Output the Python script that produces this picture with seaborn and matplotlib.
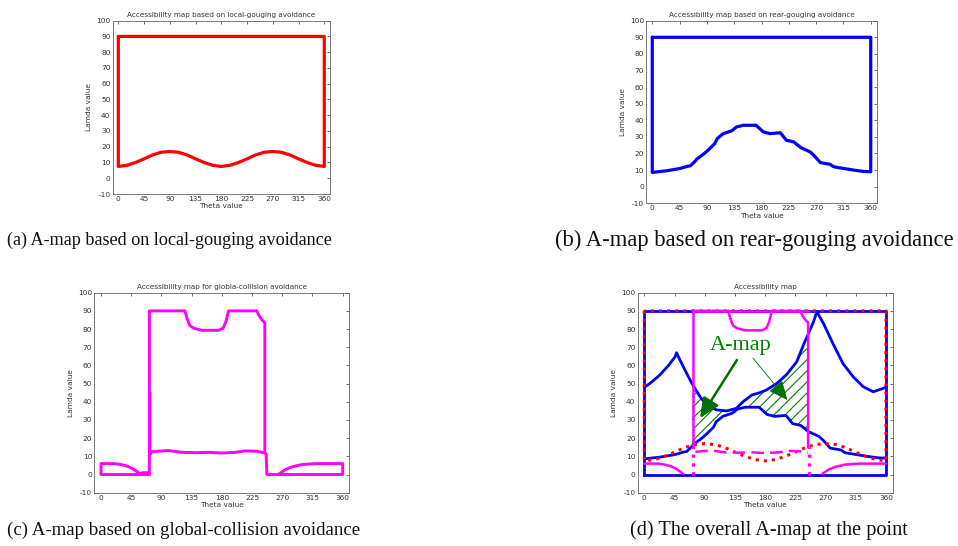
import numpy as np
import pandas as pd
import matplotlib
matplotlib.use('Agg')
import matplotlib.pyplot as plt
import seaborn as sns

# ---- data (theta in deg, lambda in deg) ----
theta_ticks = [0, 45, 90, 135, 180, 225, 270, 315, 360]
lam_ticks = [-10, 0, 10, 20, 30, 40, 50, 60, 70, 80, 90, 100]

# (a) local-gouging lower bound
theta_local = [0, 15, 30, 45, 60, 75, 90, 105, 120, 135, 150, 165, 180,
               195, 210, 225, 240, 255, 270, 285, 300, 315, 330, 345, 360]
lam_local = [7.5, 8.2, 10, 12.3, 14.8, 16.5, 17, 16.5, 14.8, 12.3, 10, 8.2, 7.5,
             8.2, 10, 12.3, 14.8, 16.5, 17, 16.5, 14.8, 12.3, 10, 8.2, 7.5]
lam_top = 90

# (b) rear-gouging lower bound
theta_rear = [0, 24, 46, 59, 63, 71, 73, 84, 92, 103, 107, 117, 131, 139, 150,
              171, 183, 194, 211, 221, 233, 245, 260, 266, 277, 293, 299, 315,
              332, 348, 360]
lam_rear = [8.6, 9.6, 11, 12.4, 12.6, 15.5, 16.5, 19.5, 22, 26, 29, 32, 33.7, 36,
            37, 37, 33, 32, 32.5, 28, 27, 23.5, 21, 19, 14.5, 13.5, 12, 11, 10,
            9.2, 9]

# (d) rear-gouging upper bound (only shown in the overall map)
theta_up = [0, 8, 23, 36, 46, 48, 53, 63, 71, 83, 93, 108, 123, 137, 147, 160,
            172, 182, 197, 212, 227, 239, 245, 252, 257, 267, 281, 296, 311, 326,
            341, 356, 360]
lam_up = [48, 50, 54.7, 60, 64.8, 67, 63, 55.7, 50, 42.8, 38, 35.5, 35, 36.4, 40,
          43.7, 45, 46.5, 50, 55, 62, 73, 78, 84, 89.5, 83, 72, 61, 53.8, 48.3,
          45.5, 47.4, 48]

# (c) global-collision contour pieces
glob_left_theta = [58, 54, 48, 40, 30, 20, 0, 0, 72]
glob_left_lam = [0.3, 1.5, 3, 4.5, 5.5, 6, 6, 0, 0]
glob_gap_theta = [58, 62, 70, 72]
glob_gap_lam = [0.5, 1, 1, 1]
glob_main_theta = [72, 72, 125, 128, 132, 138, 150, 175, 182, 186, 190, 232, 236,
                   240, 244, 244]
glob_main_lam = [0, 90, 90, 86, 82, 80.5, 79.3, 79.3, 80.5, 84, 90, 90, 87, 85,
                 83.5, 12]
glob_inner_theta = [73, 73, 76, 85, 100, 120, 140, 160, 180, 200, 215, 232, 242, 244]
glob_inner_lam = [45, 11, 12.5, 12.8, 13.2, 12.2, 12, 12.2, 11.8, 12.2, 13, 12.8, 12, 12]
glob_right_theta = [244, 246, 247, 360, 360, 320, 300, 285, 275, 265]
glob_right_lam = [12, 11, 0, 0, 6, 6, 5.5, 4.3, 2.8, 0.3]
glob_limits = [72, 246]

titles = ['Accessibility map based on local-gouging avoidance',
          'Accessibility map based on rear-gouging avoidance',
          'Accessibility map for globla-collision avoidance',
          'Accessibility map']
captions = ['(a) A-map based on local-gouging avoidance',
            '(b) A-map based on rear-gouging avoidance',
            '(c) A-map based on global-collision avoidance',
            '(d) The overall A-map at the point']

RED, BLUE, MAG, GREEN = '#ff0000', '#0000ff', '#ff00ff', '#008000'

sns.set_theme(style='white')
plt.rcParams['font.family'] = ['DejaVu Sans']
plt.rcParams['axes.unicode_minus'] = False
plt.rcParams['hatch.linewidth'] = 0.8

W, H = 958, 546
fig = plt.figure(figsize=(W / 100, H / 100), dpi=100)


def px_axes(left, right, top, bottom):
    return fig.add_axes([left / W, 1 - bottom / H, (right - left) / W, (bottom - top) / H])


def line(ax, xs, ys, color, lw=2.3, **kw):
    sns.lineplot(x=xs, y=ys, sort=False, estimator=None, color=color,
                 linewidth=lw, ax=ax, **kw)


def style(ax, title):
    ax.set_xlim(-10, 370)
    ax.set_ylim(-10, 100)
    ax.set_xticks(theta_ticks)
    ax.set_yticks(lam_ticks)
    ax.tick_params(direction='in', length=2.5, width=0.5, labelsize=5.3, pad=1.5,
                   top=True, right=True, colors='#333333', labelcolor='#333333')
    for s in ax.spines.values():
        s.set_linewidth(0.6)
        s.set_color('#666666')
    ax.set_title(title, fontsize=5.2, pad=2.5, color='#333333')
    ax.set_xlabel('Theta value', fontsize=5.3, labelpad=1, color='#333333')
    ax.set_ylabel('Lamda value', fontsize=5.3, labelpad=3, color='#333333')


ax_a = px_axes(112.6, 330, 20.7, 194)
ax_b = px_axes(646.2, 876.8, 20.7, 203.3)
ax_c = px_axes(94.3, 349.4, 292.7, 492.7)
ax_d = px_axes(637.6, 892.7, 292.7, 492.7)

# (a)
line(ax_a, [0] + theta_local + [360, 0], [lam_top] + lam_local + [lam_top, lam_top], RED)
# (b)
line(ax_b, [0] + theta_rear + [360, 0], [lam_top] + lam_rear + [lam_top, lam_top], BLUE)
# (c)
for xs, ys in [(glob_left_theta, glob_left_lam), (glob_gap_theta, glob_gap_lam),
               (glob_main_theta, glob_main_lam), (glob_inner_theta, glob_inner_lam),
               (glob_right_theta, glob_right_lam)]:
    line(ax_c, xs, ys, MAG, lw=2.1)

# (d) overall map
sel_up = [(t, l) for t, l in zip(theta_up, lam_up) if 71 <= t <= 245]
sel_lo = [(t, l) for t, l in zip(theta_rear, lam_rear) if 71 <= t <= 245]
poly = sel_up + sel_lo[::-1]
ax_d.fill([p[0] for p in poly], [p[1] for p in poly], facecolor='none',
          edgecolor=GREEN, hatch='///', linewidth=0, zorder=1)

line(ax_d, [0, 360, 360, 0, 0], [0, 0, lam_top, lam_top, 0], BLUE, lw=2.0)
line(ax_d, theta_up, lam_up, BLUE, lw=2.0)
line(ax_d, theta_rear, lam_rear, BLUE, lw=2.0)
line(ax_d, [0] + theta_local + [360, 0], [lam_top] + lam_local + [lam_top, lam_top],
     RED, lw=2.2, linestyle=':')
line(ax_d, glob_left_theta[:-2], glob_left_lam[:-2], MAG, lw=1.8)
line(ax_d, glob_main_theta[1:-1] + [glob_main_theta[-1]], glob_main_lam[1:-1] + [15], MAG, lw=1.8)
line(ax_d, [glob_main_theta[0], glob_main_theta[1]], [15, lam_top], MAG, lw=1.8)
line(ax_d, [glob_limits[0], glob_limits[1]], [lam_top, lam_top], MAG, lw=1.8)
line(ax_d, glob_inner_theta[2:], glob_inner_lam[2:], MAG, lw=1.8,
     linestyle=(0, (5, 2.5)))
line(ax_d, glob_right_theta[4:], glob_right_lam[4:], MAG, lw=1.8)
for t in glob_limits:
    line(ax_d, [t, t], [0, 15], MAG, lw=2.4, linestyle=':')

ax_d.text(144, 71, 'A-map', color=GREEN, fontsize=16, family='Liberation Serif',
          ha='center', va='center', zorder=6)
ax_d.annotate('', xy=(83, 31), xytext=(138, 63),
              arrowprops=dict(arrowstyle='-|>,head_length=1.0,head_width=0.45',
                              color='#007000', lw=1.8, shrinkA=0, shrinkB=0), zorder=6)
ax_d.annotate('', xy=(213, 41), xytext=(162, 64),
              arrowprops=dict(arrowstyle='-|>,head_length=1.0,head_width=0.45',
                              color='#007000', lw=0.6, shrinkA=0, shrinkB=0), zorder=6)

for ax, t in zip([ax_a, ax_b, ax_c, ax_d], titles):
    style(ax, t)

cap_pos = [(7, 240, 13.1), (555, 240, 16.3), (7, 530, 13.6), (630, 530, 14.6)]
for (x, y, fs), txt in zip(cap_pos, captions):
    fig.text(x / W, 1 - y / H, txt, fontsize=fs, family='Liberation Serif',
             ha='left', va='center', color='#111111')

fig.savefig('out.png', dpi=100)
